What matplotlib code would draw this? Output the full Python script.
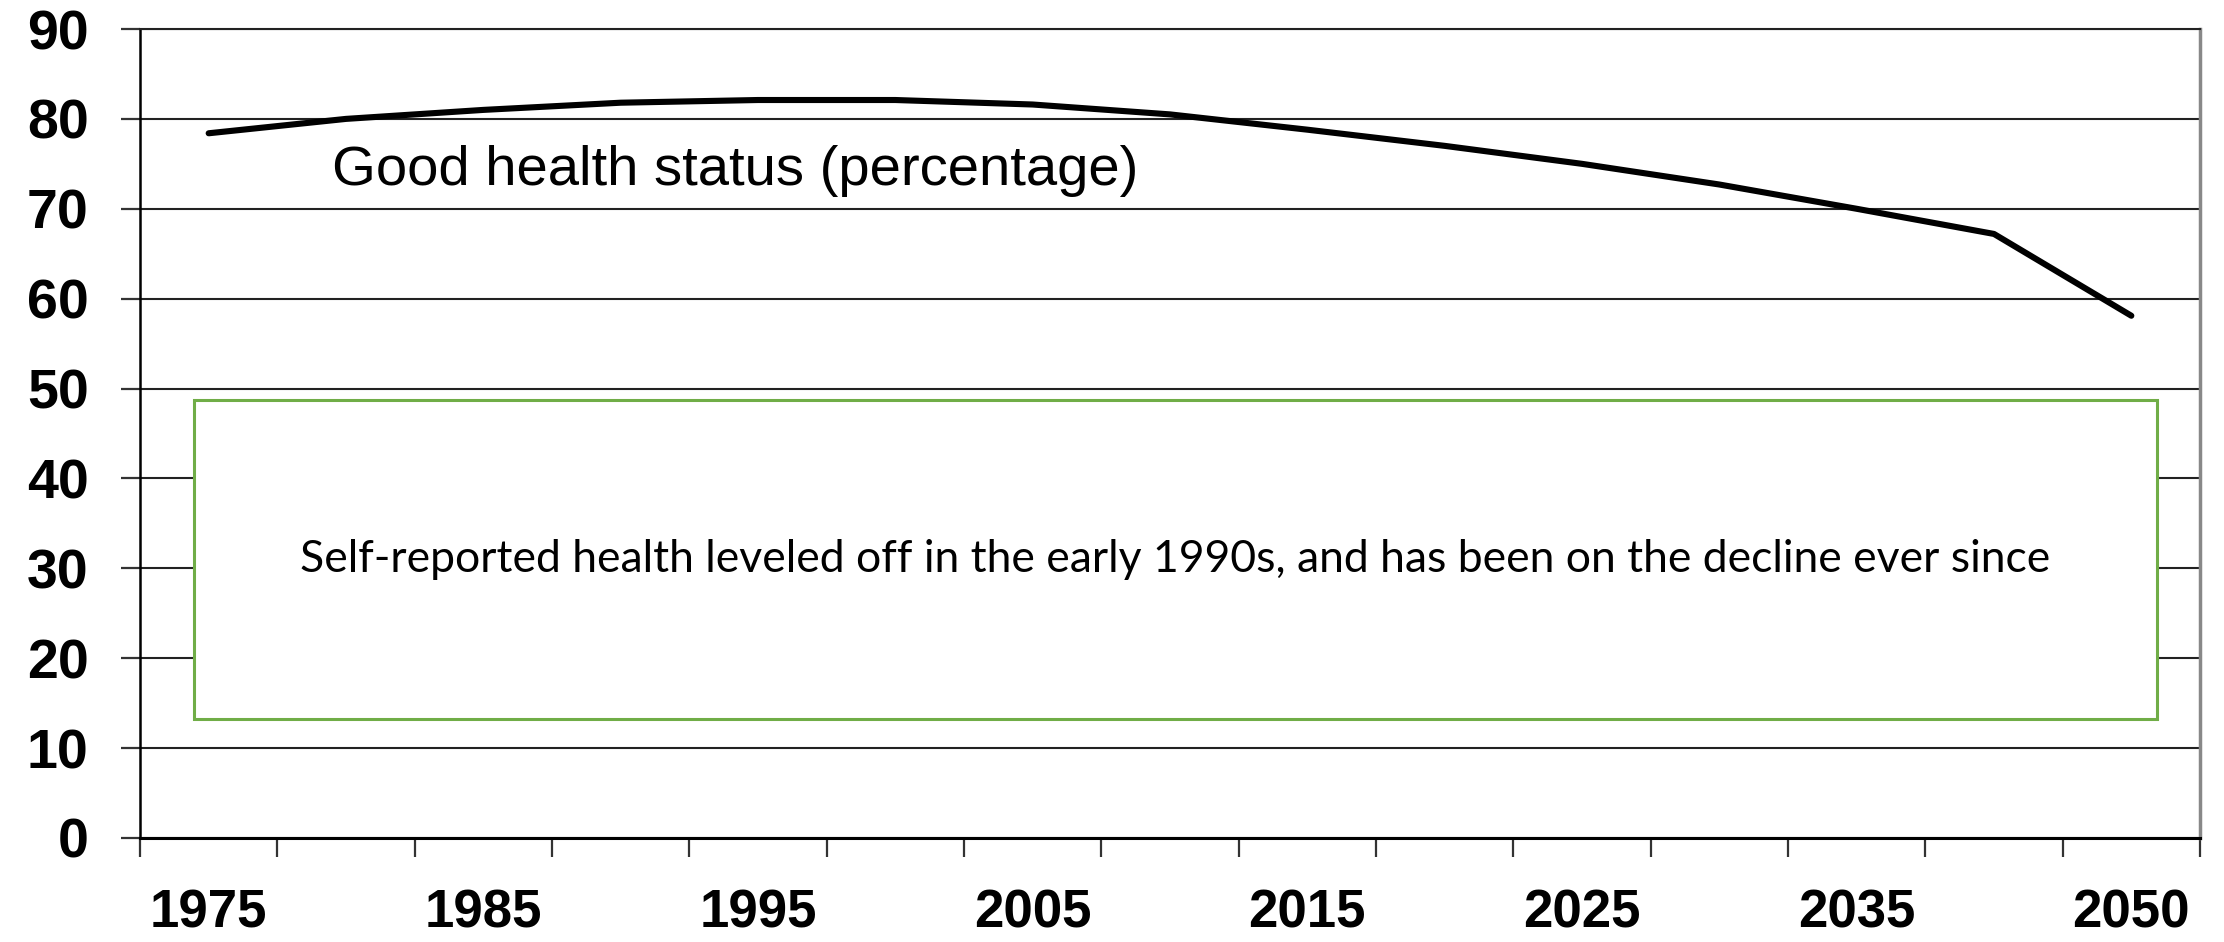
import matplotlib.pyplot as plt
import numpy as np
from matplotlib.patches import Rectangle

years = ['1975', '1980', '1985', '1990', '1995', '2000', '2005', '2010',
         '2015', '2020', '2025', '2030', '2035', '2040', '2050']
good_health = [78.4, 80.0, 81.0, 81.8, 82.1, 82.1, 81.6, 80.5,
               78.8, 77.0, 75.0, 72.7, 70.0, 67.2, 58.1]
shown_labels = ['1975', '1985', '1995', '2005', '2015', '2025', '2035', '2050']
y_ticks = [0, 10, 20, 30, 40, 50, 60, 70, 80, 90]

series_label = 'Good health status (percentage)'
note = 'Self-reported health leveled off in the early 1990s, and has been on the decline ever since'

W, H = 2224, 942
fig = plt.figure(figsize=(W / 100, H / 100), dpi=100)
ax = fig.add_axes([140 / W, 1 - 838 / H, (2200 - 140) / W, (838 - 29) / H])

x = np.arange(len(years))
ax.plot(x, good_health, color='black', linewidth=4.4, solid_capstyle='round',
        solid_joinstyle='round', zorder=3)

ax.set_xlim(-0.5, len(years) - 0.5)
ax.set_ylim(0, 90)

# labels only on every other category, ticks on category borders
label_pos = [years.index(y) for y in shown_labels]
ax.set_xticks(label_pos)
ax.set_xticklabels(shown_labels)
ax.set_xticks(np.arange(-0.5, len(years), 1), minor=True)
ax.tick_params(axis='x', which='major', length=0, pad=36)
ax.tick_params(axis='x', which='minor', length=14, width=1.6, color='#333333')
for lab in ax.get_xticklabels():
    lab.set_fontfamily('Liberation Sans')
    lab.set_fontweight('bold')
    lab.set_fontsize(38)

ax.set_yticks(y_ticks)
ax.tick_params(axis='y', length=14, width=1.6, color='#333333', pad=23)
for lab in ax.get_yticklabels():
    lab.set_fontfamily('Liberation Sans')
    lab.set_fontweight('bold')
    lab.set_fontsize(40)

ax.grid(axis='y', color='#222222', linewidth=1.5, zorder=1)
ax.set_axisbelow(True)
ax.spines['left'].set_linewidth(1.8)
ax.spines['left'].set_color('black')
ax.spines['bottom'].set_linewidth(2.2)
ax.spines['bottom'].set_color('black')
ax.spines['top'].set_linewidth(1.5)
ax.spines['top'].set_color('#222222')
ax.spines['right'].set_linewidth(2.5)
ax.spines['right'].set_color('#888888')

ax.text(0.9, 74.2, series_label, fontfamily='Liberation Sans', fontsize=40.5,
        va='center', ha='left', color='black')

# annotation box over the lower part of the plot
box = Rectangle((194 / W, 1 - 719 / H), (2157 - 194) / W, (719 - 400) / H,
                transform=fig.transFigure, facecolor='white',
                edgecolor='#70AD47', linewidth=2.2, zorder=5)
fig.add_artist(box)
fig.text(1175 / W, 1 - 560 / H, note, fontfamily='Lato', fontsize=32,
         ha='center', va='center', color='black', zorder=6)

plt.savefig('out.png', dpi=100)
